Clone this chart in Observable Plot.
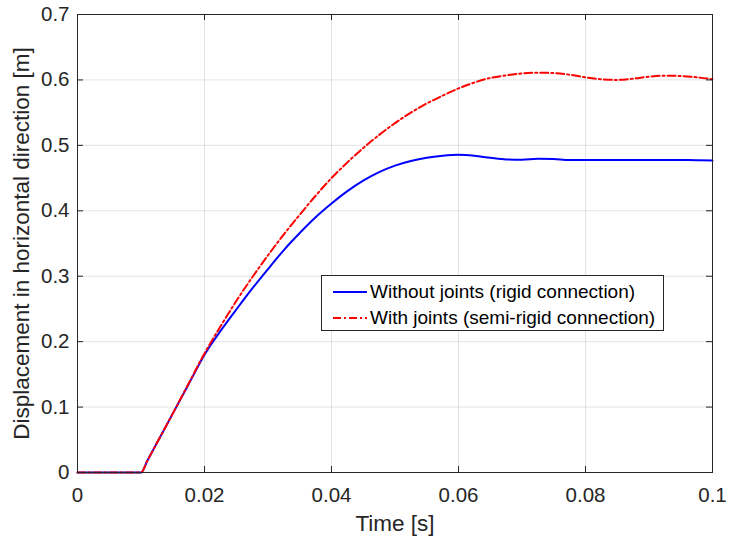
<!DOCTYPE html>
<html>
<head>
<meta charset="utf-8">
<script src="https://cdn.jsdelivr.net/npm/d3@7"></script>
<script src="https://cdn.jsdelivr.net/npm/@observablehq/plot@0.6"></script>
<style>
  html, body { margin: 0; padding: 0; background: white; }
  #wrap { position: relative; width: 729px; height: 544px; }
  #legend {
    position: absolute; left: 321px; top: 275px; width: 343px; height: 56px;
    border: 1px solid #262626; background: white; box-sizing: border-box;
    font-family: "Liberation Sans", Arial, sans-serif; font-size: 19px; color: #000;
  }
  .row { position: absolute; left: 0; height: 22px; display: flex; align-items: center; white-space: nowrap; }
  .row svg { margin-left: 11px; margin-right: 3px; }
</style>
</head>
<body>
<div id="wrap"></div>
<script>
const time = [0, 0.005, 0.01, 0.011, 0.0125, 0.015, 0.0175, 0.02, 0.0225, 0.025, 0.0275, 0.03, 0.0325, 0.035, 0.0375, 0.04, 0.0425, 0.045, 0.0475, 0.05, 0.0525, 0.055, 0.0575, 0.06, 0.0625, 0.065, 0.0675, 0.07, 0.0725, 0.075, 0.0775, 0.08, 0.0825, 0.085, 0.0875, 0.09, 0.0925, 0.095, 0.0975, 0.1];
const rigid = [0, 0, 0, 0.018, 0.045, 0.090, 0.135, 0.180, 0.216, 0.249, 0.281, 0.311, 0.340, 0.366, 0.390, 0.411, 0.430, 0.446, 0.459, 0.469, 0.476, 0.481, 0.484, 0.4855, 0.484, 0.481, 0.4785, 0.478, 0.4795, 0.479, 0.4775, 0.4778, 0.4776, 0.4775, 0.4777, 0.4778, 0.4776, 0.4775, 0.4774, 0.477];
const semiRigid = [0, 0, 0, 0.018, 0.045, 0.090, 0.136, 0.182, 0.223, 0.262, 0.298, 0.332, 0.364, 0.394, 0.423, 0.450, 0.474, 0.496, 0.516, 0.534, 0.550, 0.564, 0.576, 0.587, 0.596, 0.603, 0.607, 0.610, 0.611, 0.6105, 0.608, 0.604, 0.601, 0.600, 0.602, 0.605, 0.6065, 0.606, 0.604, 0.601];
const xTicks = [0, 0.02, 0.04, 0.06, 0.08, 0.1];
const xTickLabels = ["0", "0.02", "0.04", "0.06", "0.08", "0.1"];
const yTicks = [0, 0.1, 0.2, 0.3, 0.4, 0.5, 0.6, 0.7];
const yTickLabels = ["0", "0.1", "0.2", "0.3", "0.4", "0.5", "0.6", "0.7"];
const seriesNames = ["Without joints (rigid connection)", "With joints (semi-rigid connection)"];
const xLabel = "Time [s]";
const yLabel = "Displacement in horizontal direction [m]";

const rigidData = time.map((t, i) => ({t, v: rigid[i]}));
const semiData = time.map((t, i) => ({t, v: semiRigid[i]}));

const W = 729, H = 544, mL = 77, mR = 17, mT = 14, mB = 72;
const fw = W - mL - mR, fh = H - mT - mB;
const axisColor = "#262626";
const dash = "8,3,2,3";

const chart = Plot.plot({
  width: W, height: H,
  marginLeft: mL, marginRight: mR, marginTop: mT, marginBottom: mB,
  style: {fontFamily: "'Liberation Sans', Arial, sans-serif", fontSize: "20.5px", color: axisColor, background: "white"},
  x: {domain: [0, 0.1]},
  y: {domain: [0, 0.7]},
  marks: [
    Plot.ruleX(xTicks, {x: d => d, stroke: "#000", strokeOpacity: 0.11}),
    Plot.ruleY(yTicks, {y: d => d, stroke: "#000", strokeOpacity: 0.11}),
    Plot.line(rigidData, {x: "t", y: "v", stroke: "#0000ff", strokeWidth: 2, curve: "monotone-x"}),
    Plot.line(semiData, {x: "t", y: "v", stroke: "#ff0000", strokeWidth: 2, strokeDasharray: dash, curve: "monotone-x"}),
    Plot.frame({stroke: axisColor, strokeWidth: 1}),
    Plot.tickX(xTicks, {x: d => d, insetTop: fh - 6, stroke: axisColor}),
    Plot.tickX(xTicks, {x: d => d, insetBottom: fh - 6, stroke: axisColor}),
    Plot.tickY(yTicks, {y: d => d, insetRight: fw - 6, stroke: axisColor}),
    Plot.tickY(yTicks, {y: d => d, insetLeft: fw - 6, stroke: axisColor}),
    Plot.axisX(xTicks, {tickSize: 0, tickPadding: 15, tickFormat: d => xTickLabels[xTicks.indexOf(d)], label: null, fill: axisColor, fontSize: 20.5}),
    Plot.axisY(yTicks, {tickSize: 0, tickPadding: 8, tickFormat: d => yTickLabels[yTicks.indexOf(d)], label: null, fill: axisColor, fontSize: 20.5}),
    Plot.text([xLabel], {text: d => d, frameAnchor: "bottom", lineAnchor: "middle", textAnchor: "middle", dy: 51, fontSize: 22.5, fill: axisColor}),
    Plot.text([yLabel], {text: d => d, frameAnchor: "left", lineAnchor: "middle", textAnchor: "middle", rotate: -90, dx: -56, fontSize: 22.5, fill: axisColor})
  ]
});

const wrap = document.getElementById("wrap");
wrap.appendChild(chart);

const legend = document.createElement("div");
legend.id = "legend";
const colors = ["#0000ff", "#ff0000"];
const dashes = [null, dash];
seriesNames.forEach((name, i) => {
  const row = document.createElement("div");
  row.className = "row";
  row.style.top = (5 + i * 26) + "px";
  const svg = `<svg width="34" height="6"><line x1="0" y1="3" x2="34" y2="3" stroke="${colors[i]}" stroke-width="2" ${dashes[i] ? `stroke-dasharray="${dashes[i]}"` : ""}/></svg>`;
  row.innerHTML = svg + `<span>${name}</span>`;
  legend.appendChild(row);
});
wrap.appendChild(legend);
</script>
</body>
</html>
